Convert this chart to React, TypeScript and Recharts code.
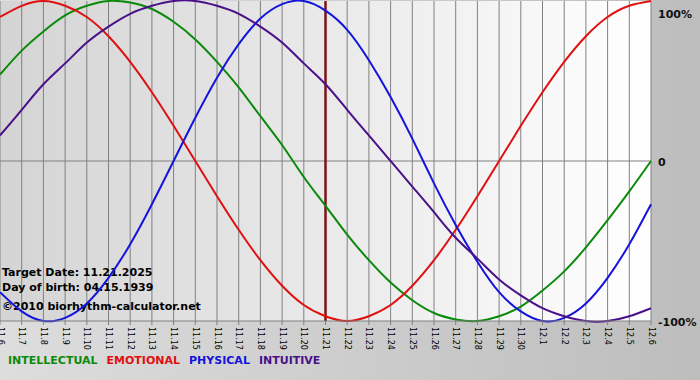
import { LineChart, Line, XAxis, YAxis, CartesianGrid, ReferenceLine } from 'recharts';

const days = [
  '11.6', '11.7', '11.8', '11.9', '11.10', '11.11', '11.12', '11.13', '11.14', '11.15', '11.16',
  '11.17', '11.18', '11.19', '11.20', '11.21', '11.22', '11.23', '11.24', '11.25', '11.26',
  '11.27', '11.28', '11.29', '11.30', '12.1', '12.2', '12.3', '12.4', '12.5', '12.6',
];

const physical = [-82, -94, -100, -98, -89, -73, -52, -27, 0, 27, 52, 73, 89, 98, 100, 94, 82, 63, 40, 14, -14, -40, -63, -82, -94, -100, -98, -89, -73, -52, -27];
const emotional = [90, 97, 100, 97, 90, 78, 62, 43, 22, 0, -22, -43, -62, -78, -90, -97, -100, -97, -90, -78, -62, -43, -22, 0, 22, 43, 62, 78, 90, 97, 100];
const intellectual = [54, 69, 81, 91, 97, 100, 99, 95, 87, 76, 62, 46, 28, 10, -10, -28, -46, -62, -76, -87, -95, -99, -100, -97, -91, -81, -69, -54, -37, -19, 0];
const intuitive = [16, 32, 48, 61, 74, 84, 92, 97, 100, 100, 97, 92, 84, 74, 61, 48, 32, 16, 0, -16, -32, -48, -61, -74, -84, -92, -97, -100, -100, -97, -92];

const yTicks = [-100, 0, 100];
const yTickLabels = ['-100%', '0', '100%'];

const targetDay = '11.21';

const COLORS = {
  intellectual: '#0a8a0a',
  emotional: '#e01010',
  physical: '#1414dc',
  intuitive: '#4a108a',
};

const data = days.map((day, i) => ({
  day,
  physical: physical[i],
  emotional: emotional[i],
  intellectual: intellectual[i],
  intuitive: intuitive[i],
}));

const FONT = '"DejaVu Sans", Verdana, sans-serif';

function DayTick({ x, y, payload }: any) {
  return (
    <text
      transform={`translate(${x},${y}) rotate(90)`}
      textAnchor="start"
      dominantBaseline="central"
      fontFamily={FONT}
      fontSize={8}
      fill="#000"
    >
      {payload.value}
    </text>
  );
}

function PercentTick({ x, y, payload }: any) {
  const label = yTickLabels[yTicks.indexOf(payload.value)];
  const dy = payload.value === 100 ? 5.5 : 1;
  return (
    <text x={x} y={y + dy} textAnchor="start" dominantBaseline="central" fontFamily={FONT} fontSize={11} fontWeight="bold" fill="#111">
      {label}
    </text>
  );
}

const legendItems = [
  { name: 'INTELLECTUAL', key: 'intellectual' },
  { name: 'EMOTIONAL', key: 'emotional' },
  { name: 'PHYSICAL', key: 'physical' },
  { name: 'INTUITIVE', key: 'intuitive' },
] as const;

export default function App() {
  return (
    <div
      style={{
        position: 'absolute',
        left: 0,
        top: 0,
        width: 700,
        height: 380,
        overflow: 'hidden',
        background: 'linear-gradient(to right, #dddddd, #bdbdbd)',
      }}
    >
      <LineChart width={700} height={380} data={data} margin={{ top: 1, right: 0, bottom: 0, left: 0 }}>
        <defs>
          <linearGradient id="plotBg" x1="0" y1="0" x2="1" y2="0">
            <stop offset="0%" stopColor="#d4d4d4" />
            <stop offset="100%" stopColor="#ffffff" />
          </linearGradient>
        </defs>
        <CartesianGrid horizontal={false} stroke="#808080" fill="url(#plotBg)" fillOpacity={1} />
        <XAxis
          dataKey="day"
          height={59}
          interval={0}
          tick={<DayTick />}
          tickSize={4}
          tickMargin={2}
          stroke="#808080"
        />
        <YAxis
          orientation="right"
          width={49}
          domain={[-100, 100]}
          ticks={yTicks}
          tick={<PercentTick />}
          tickLine={false}
          axisLine={false}
          tickSize={0}
          tickMargin={7}
        />
        <ReferenceLine y={0} stroke="#808080" />
        <text x={2} y={276} fontFamily={FONT} fontSize={11} fontWeight="bold" fill="#000">Target Date: 11.21.2025</text>
        <text x={2} y={291} fontFamily={FONT} fontSize={11} fontWeight="bold" fill="#000">Day of birth: 04.15.1939</text>
        <text x={2} y={310} fontFamily={FONT} fontSize={11} fontWeight="bold" fill="#000">©2010 biorhythm-calculator.net</text>
        <ReferenceLine x={targetDay} stroke="#7a1414" strokeWidth={2.5} />
        <Line type="natural" dataKey="intellectual" stroke={COLORS.intellectual} strokeWidth={2} dot={false} isAnimationActive={false} />
        <Line type="natural" dataKey="emotional" stroke={COLORS.emotional} strokeWidth={2} dot={false} isAnimationActive={false} />
        <Line type="natural" dataKey="physical" stroke={COLORS.physical} strokeWidth={2} dot={false} isAnimationActive={false} />
        <Line type="natural" dataKey="intuitive" stroke={COLORS.intuitive} strokeWidth={2} dot={false} isAnimationActive={false} />
      </LineChart>
      <div
        style={{
          position: 'absolute',
          left: 8,
          top: 354,
          display: 'flex',
          gap: 9,
          fontFamily: FONT,
          fontSize: 11,
          fontWeight: 'bold',
          whiteSpace: 'nowrap',
        }}
      >
        {legendItems.map((item) => (
          <span key={item.key} style={{ color: COLORS[item.key] }}>
            {item.name}
          </span>
        ))}
      </div>
    </div>
  );
}
